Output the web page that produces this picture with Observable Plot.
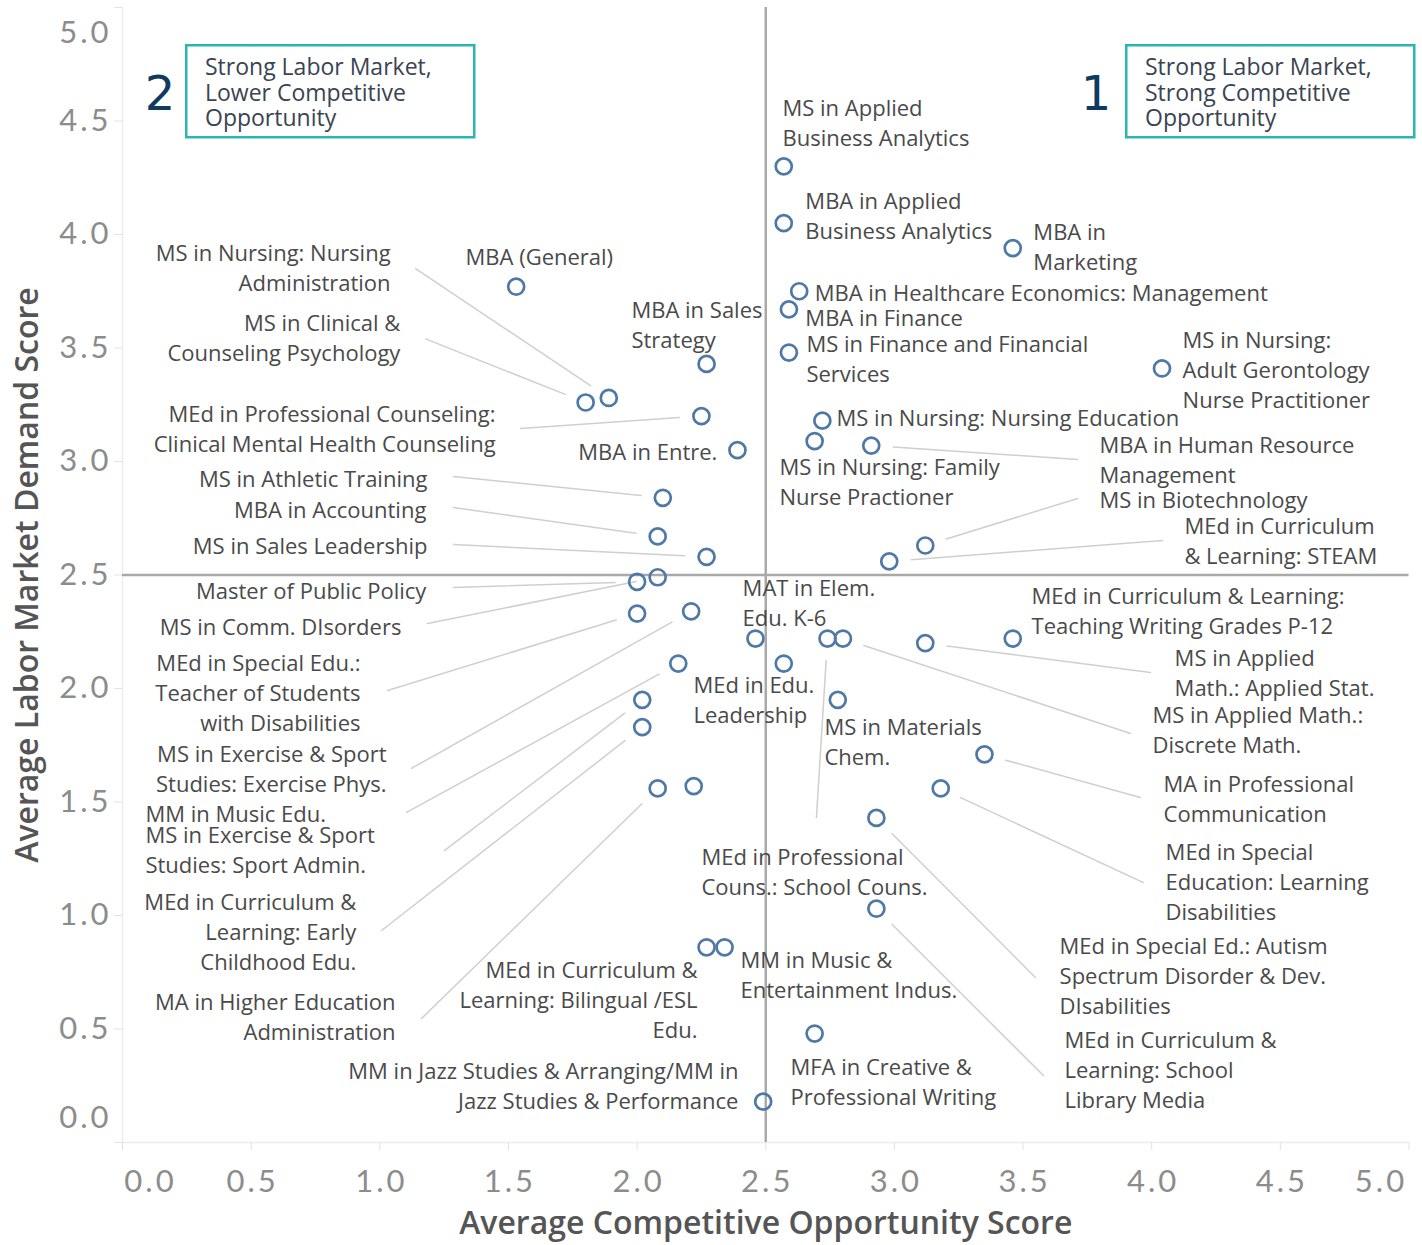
<!DOCTYPE html>
<html>
<head>
<meta charset="utf-8">
<script src="https://cdn.jsdelivr.net/npm/d3@7"></script>
<script src="https://cdn.jsdelivr.net/npm/@observablehq/plot@0.6"></script>
<style>
  body { margin: 0; background: #fff; }
  #chart { width: 1422px; height: 1245px; }
  #chart g[aria-label="x-axis tick label"] text,
  #chart g[aria-label="y-axis tick label"] text { letter-spacing: 3px; }
</style>
</head>
<body>
<div id="chart"></div>
<script>
// ---- data ----
const programs = [
  "MS in Applied Business Analytics",
  "MBA in Applied Business Analytics",
  "MBA in Marketing",
  "MBA (General)",
  "MBA in Healthcare Economics: Management",
  "MBA in Finance",
  "MS in Finance and Financial Services",
  "MBA in Sales Strategy",
  "MS in Nursing: Adult Gerontology Nurse Practitioner",
  "MS in Nursing: Nursing Administration",
  "MS in Clinical & Counseling Psychology",
  "MEd in Professional Counseling: Clinical Mental Health Counseling",
  "MS in Nursing: Nursing Education",
  "MS in Nursing: Family Nurse Practioner",
  "MBA in Human Resource Management",
  "MBA in Entre.",
  "MS in Athletic Training",
  "MBA in Accounting",
  "MS in Sales Leadership",
  "MS in Biotechnology",
  "MEd in Curriculum & Learning: STEAM",
  "Master of Public Policy",
  "MS in Comm. DIsorders",
  "MEd in Special Edu.: Teacher of Students with Disabilities",
  "MS in Exercise & Sport Studies: Exercise Phys.",
  "MAT in Elem. Edu. K-6",
  "MEd in Professional Couns.: School Couns.",
  "MS in Applied Math.: Discrete Math.",
  "MS in Applied Math.: Applied Stat.",
  "MEd in Curriculum & Learning: Teaching Writing Grades P-12",
  "MM in Music Edu.",
  "MEd in Edu. Leadership",
  "MS in Exercise & Sport Studies: Sport Admin.",
  "MS in Materials Chem.",
  "MEd in Curriculum & Learning: Early Childhood Edu.",
  "MA in Professional Communication",
  "MA in Higher Education Administration",
  "(unlabeled program)",
  "MEd in Special Education: Learning Disabilities",
  "MEd in Special Ed.: Autism Spectrum Disorder & Dev. DIsabilities",
  "MEd in Curriculum & Learning: School Library Media",
  "MEd in Curriculum & Learning: Bilingual /ESL Edu.",
  "MM in Music & Entertainment Indus.",
  "MFA in Creative & Professional Writing",
  "MM in Jazz Studies & Arranging/MM in Jazz Studies & Performance"
];

const competitiveScore = [2.57,2.57,3.46,1.53,2.63, 2.59,2.59,2.27,4.04,1.89, 1.80,2.25,2.72,2.69,2.91,
  2.39,2.10,2.08,2.27,3.12, 2.98,2.00,2.08,2.00,2.21, 2.46,2.74,2.80,3.12,3.46,
  2.16,2.57,2.02,2.78,2.02, 3.35,2.08,2.22,3.18,2.93, 2.93,2.27,2.34,2.69,2.49];

const demandScore = [4.30,4.05,3.94,3.77,3.75, 3.67,3.48,3.43,3.41,3.28, 3.26,3.20,3.18,3.09,3.07,
  3.05,2.84,2.67,2.58,2.63, 2.56,2.47,2.49,2.33,2.34, 2.22,2.22,2.22,2.20,2.22,
  2.11,2.11,1.95,1.95,1.83, 1.71,1.56,1.57,1.56,1.43, 1.03,0.86,0.86,0.48,0.18];

const labelText = [
  "MS in Applied\nBusiness Analytics",
  "MBA in Applied\nBusiness Analytics",
  "MBA in\nMarketing",
  "MBA (General)",
  "MBA in Healthcare Economics: Management",
  "MBA in Finance",
  "MS in Finance and Financial\nServices",
  "MBA in Sales\nStrategy",
  "MS in Nursing:\nAdult Gerontology\nNurse Practitioner",
  "MS in Nursing: Nursing\nAdministration",
  "MS in Clinical &\nCounseling Psychology",
  "MEd in Professional Counseling:\nClinical Mental Health Counseling",
  "MS in Nursing: Nursing Education",
  "MS in Nursing: Family\nNurse Practioner",
  "MBA in Human Resource\nManagement",
  "MBA in Entre.",
  "MS in Athletic Training",
  "MBA in Accounting",
  "MS in Sales Leadership",
  "MS in Biotechnology",
  "MEd in Curriculum\n& Learning: STEAM",
  "Master of Public Policy",
  "MS in Comm. DIsorders",
  "MEd in Special Edu.:\nTeacher of Students\nwith Disabilities",
  "MS in Exercise & Sport\nStudies: Exercise Phys.",
  "MAT in Elem.\nEdu. K-6",
  "MEd in Professional\nCouns.: School Couns.",
  "MS in Applied Math.:\nDiscrete Math.",
  "MS in Applied\nMath.: Applied Stat.",
  "MEd in Curriculum & Learning:\nTeaching Writing Grades P-12",
  "MM in Music Edu.",
  "MEd in Edu.\nLeadership",
  "MS in Exercise & Sport\nStudies: Sport Admin.",
  "MS in Materials\nChem.",
  "MEd in Curriculum &\nLearning: Early\nChildhood Edu.",
  "MA in Professional\nCommunication",
  "MA in Higher Education\nAdministration",
  null,
  "MEd in Special\nEducation: Learning\nDisabilities",
  "MEd in Special Ed.: Autism\nSpectrum Disorder & Dev.\nDIsabilities",
  "MEd in Curriculum &\nLearning: School\nLibrary Media",
  "MEd in Curriculum &\nLearning: Bilingual /ESL\nEdu.",
  "MM in Music &\nEntertainment Indus.",
  "MFA in Creative &\nProfessional Writing",
  "MM in Jazz Studies & Arranging/MM in\nJazz Studies & Performance"
];

// label anchor placement (in score units)
const labelX = [2.565,2.654,3.54,1.62,2.69, 2.654,2.658,1.978,4.12,1.042, 1.08,1.45,2.775,2.553,3.797,
  2.312,1.185,1.181,1.185,3.797, 4.127,1.181,1.084,0.925,1.026, 2.41,2.25,4.003,4.089,3.533,
  0.089,2.219,0.089,2.728,0.909, 4.046,1.061,null,4.054,3.642, 3.661,2.235,2.402,2.596,2.394];
const labelY = [4.50,4.09,3.95,3.91,3.75, 3.64,3.46,3.61,3.41,3.86, 3.55,3.15,3.20,2.916,3.013,
  3.048,2.93,2.793,2.634,2.837, 2.656,2.436,2.278,1.987,1.652, 2.383,1.198,1.824,2.075,2.348,
  1.454,1.956,1.295,1.771,0.934, 1.52,0.559,null,1.154,0.74, 0.326,0.634,0.744,0.273,0.256];
const labelAnchor = ["start","start","start","middle","start", "start","start","start","start","end",
  "end","end","start","start","start", "end","end","end","end","start",
  "start","end","end","end","end", "start","start","start","start","start",
  "start","start","start","start","end", "start","end",null,"start","start",
  "start","end","start","start","end"];
// leader line start (label side), in score units
const leaderX = [null,null,null,null,null,null,null,null,null,1.139,1.178,1.547,null,null,3.712,null,
  1.286,1.286,1.286,3.712,4.042,1.286,1.185,1.030,1.123,null,2.697,3.918,3.995,null,
  1.104,null,1.251,null,1.007,3.956,1.162,null,3.968,3.548,3.579,null,null,null,null];
const leaderY = [null,null,null,null,null,null,null,null,null,3.85,3.54,3.145,null,null,3.009,null,
  2.934,2.797,2.634,2.837,2.652,2.445,2.286,1.991,1.648,null,1.432,1.802,2.07,null,
  1.454,null,1.286,null,0.934,1.52,0.546,null,1.145,0.727,0.295,null,null,null,null];

const innerTicks = [0.5,1,1.5,2,2.5,3,3.5,4,4.5];
const allTicks = [0,0.5,1,1.5,2,2.5,3,3.5,4,4.5,5];

// ---- build table ----
const rows = programs.map((p, i) => ({
  program: p, x: competitiveScore[i], y: demandScore[i],
  label: labelText[i], lx: labelX[i], ly: labelY[i], anchor: labelAnchor[i],
  sx: leaderX[i], sy: leaderY[i]
}));
const labeled = rows.filter(d => d.label);
const leaders = rows.filter(d => d.sx != null);

const fmt = d => d.toFixed(1);
const tickText = {fontSize: 31, fontWeight: 400, fill: "#8c8c8c", tickSize: 0, tickFormat: fmt, label: null, fontFamily: "Lato"};
const tickLine = {tickSize: 8, stroke: "#e2e2e2", tickFormat: () => "", label: null};
const labelStyle = {x: "lx", y: "ly", text: "label", lineAnchor: "middle", lineHeight: 1.364,
  fontSize: 22, fill: "#4a4a4a", fontFamily: "Open Sans"};

const chart = Plot.plot({
  width: 1422, height: 1245,
  marginLeft: 122, marginRight: 13.5, marginTop: 7, marginBottom: 103,
  x: {domain: [0, 5]}, y: {domain: [0, 5]},
  style: {fontFamily: "Lato", background: "#fff"},
  marks: [
    Plot.ruleX([0], {stroke: "#ececec", strokeWidth: 1.5}),
    Plot.ruleY([0], {stroke: "#ececec", strokeWidth: 1.5}),
    Plot.axisX(allTicks, tickLine),
    Plot.axisY(allTicks, tickLine),
    Plot.axisX(innerTicks, {...tickText, tickPadding: 27, dx: 1.5}),
    Plot.axisX([0], {...tickText, tickPadding: 27, dx: 28}),
    Plot.axisX([5], {...tickText, tickPadding: 27, dx: -28}),
    Plot.axisY(innerTicks, {...tickText, tickPadding: 11}),
    Plot.axisY([0], {...tickText, tickPadding: 11, dy: -24}),
    Plot.axisY([5], {...tickText, tickPadding: 11, dy: 26}),
    Plot.ruleX([2.5], {stroke: "#a9a9a9", strokeWidth: 2.5}),
    Plot.ruleY([2.5], {stroke: "#a9a9a9", strokeWidth: 2.5}),
    Plot.arrow(leaders, {x1: "sx", y1: "sy", x2: "x", y2: "y", insetEnd: 22, headLength: 0, bend: 0,
      stroke: "#cfcfcf", strokeWidth: 1.5}),
    Plot.dot(rows, {x: "x", y: "y", r: 8, stroke: "#4e79a7", strokeWidth: 2.7, fill: "none"}),
    Plot.text(labeled.filter(d => d.anchor === "start"), {...labelStyle, textAnchor: "start"}),
    Plot.text(labeled.filter(d => d.anchor === "middle"), {...labelStyle, textAnchor: "middle"}),
    Plot.text(labeled.filter(d => d.anchor === "end"), {...labelStyle, textAnchor: "end"}),
    Plot.text(["Average Labor Market Demand Score"], {frameAnchor: "left", dx: -95, rotate: -90,
      textAnchor: "middle", lineAnchor: "middle", fontSize: 32, fontWeight: 600, fill: "#555",
      fontFamily: "Open Sans"}),
    Plot.text(["Average Competitive Opportunity Score"], {frameAnchor: "bottom", dy: 81,
      textAnchor: "middle", lineAnchor: "middle", fontSize: 32, fontWeight: 600, fill: "#555",
      fontFamily: "Open Sans"})
  ]
});
document.getElementById("chart").appendChild(chart);

// ---- quadrant annotation boxes ----
const svg = d3.select(chart);
const boxes = [
  {num: "2", numX: 160, x: 185, lines: ["Strong Labor Market,", "Lower Competitive", "Opportunity"]},
  {num: "1", numX: 1096, x: 1125, lines: ["Strong Labor Market,", "Strong Competitive", "Opportunity"]}
];
for (const b of boxes) {
  const g = svg.append("g");
  g.append("rect").attr("x", b.x + 1.25).attr("y", 45.25).attr("width", 288).attr("height", 92)
    .attr("fill", "#fff").attr("stroke", "#2bb5b0").attr("stroke-width", 2.5);
  b.lines.forEach((t, i) => {
    g.append("text").attr("x", b.x + 20).attr("y", 75 + i * 25.5).attr("text-anchor", "start")
      .attr("font-family", "Open Sans").attr("font-size", 23).attr("fill", "#3a4452").text(t);
  });
  g.append("text").attr("x", b.numX).attr("y", 110).attr("text-anchor", "middle")
    .attr("font-family", "DejaVu Sans").attr("font-size", 48).attr("fill", "#0f3a62").text(b.num);
}
</script>
</body>
</html>
